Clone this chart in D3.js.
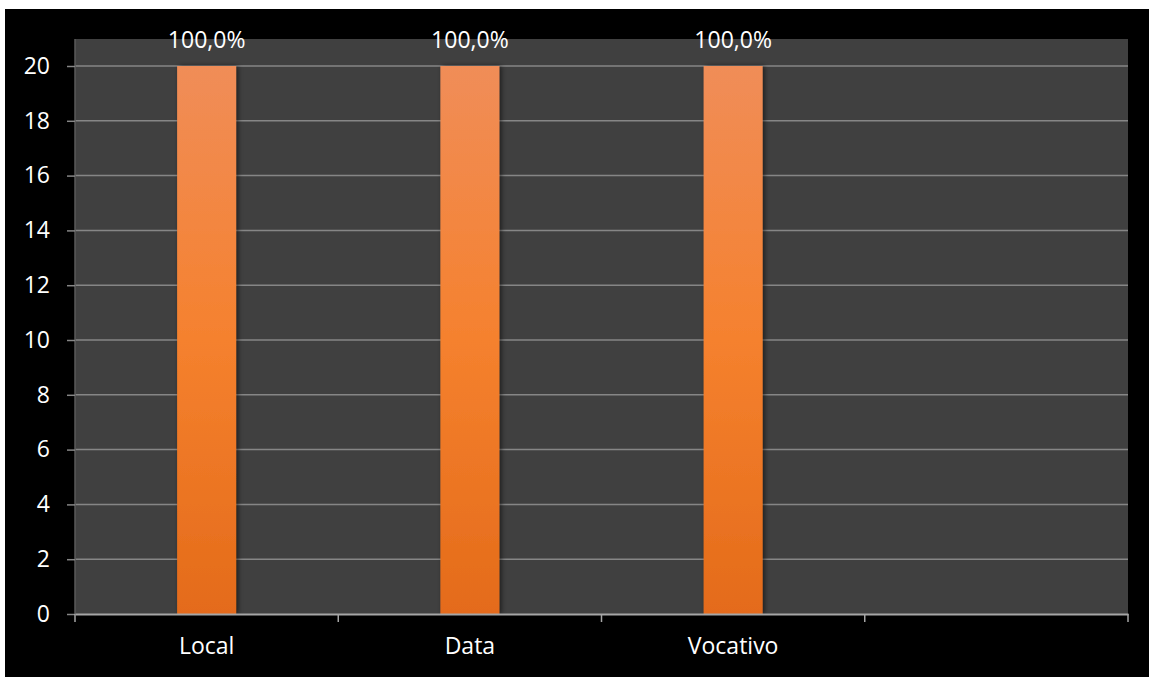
<!DOCTYPE html>
<html>
<head>
<meta charset="utf-8">
<script src="https://cdn.jsdelivr.net/npm/d3@7"></script>
<style>
  body { margin: 0; background: #fff; }
  svg { display: block; font-family: "Open Sans", sans-serif; }
</style>
</head>
<body>
<script>
// chart data
const categories = ['Local', 'Data', 'Vocativo', ''];
const values = [20, 20, 20, null];
const valueLabels = ['100,0%', '100,0%', '100,0%', ''];
const yTicks = [0, 2, 4, 6, 8, 10, 12, 14, 16, 18, 20];

const width = 1149;
const height = 677;

// plot area
const plotLeft = 75, plotRight = 1128, plotTop = 39, plotBottom = 614;
const fontSize = '23px';

const svg = d3.select('body')
  .append('svg')
    .attr('width', width)
    .attr('height', height);

// black chart background
svg.append('rect')
  .attr('x', 5).attr('y', 9)
  .attr('width', width - 5).attr('height', height - 9)
  .attr('fill', '#000');

// gradient + shadow for bars
const defs = svg.append('defs');
const grad = defs.append('linearGradient')
  .attr('id', 'barGrad')
  .attr('x1', 0).attr('y1', 0).attr('x2', 0).attr('y2', 1);
grad.append('stop').attr('offset', '0%').attr('stop-color', '#f08d58');
grad.append('stop').attr('offset', '50%').attr('stop-color', '#f5812e');
grad.append('stop').attr('offset', '100%').attr('stop-color', '#e46b1a');

const shadow = defs.append('filter')
  .attr('id', 'shadow')
  .attr('x', '-20%').attr('y', '-5%').attr('width', '140%').attr('height', '110%');
shadow.append('feDropShadow')
  .attr('dx', 2).attr('dy', 0).attr('stdDeviation', 2.5)
  .attr('flood-color', '#000').attr('flood-opacity', 0.55);

// plot background
svg.append('rect')
  .attr('x', plotLeft).attr('y', plotTop)
  .attr('width', plotRight - plotLeft).attr('height', plotBottom - plotTop)
  .attr('fill', '#404040');

const xScale = d3.scaleBand()
  .domain(categories)
  .range([plotLeft, plotRight])
  .paddingInner(0)
  .paddingOuter(0);

const yScale = d3.scaleLinear()
  .domain([0, 20])
  .range([plotBottom, 66]);

// gridlines
svg.append('g')
  .selectAll('line')
  .data(yTicks.filter(d => d > 0))
  .enter()
    .append('line')
      .attr('x1', plotLeft).attr('x2', plotRight)
      .attr('y1', d => yScale(d)).attr('y2', d => yScale(d))
      .attr('stroke', '#868686')
      .attr('stroke-width', 1.5);

// left edge of plot
svg.append('line')
  .attr('x1', plotLeft).attr('x2', plotLeft)
  .attr('y1', plotTop).attr('y2', plotBottom)
  .attr('stroke', '#5a5a5a')
  .attr('stroke-width', 1.5);

// y axis
const yAxis = svg.append('g')
  .attr('transform', `translate(${plotLeft},0)`)
  .call(d3.axisLeft(yScale).tickValues(yTicks).tickSize(8).tickPadding(17));
yAxis.select('.domain').remove();
yAxis.selectAll('line').attr('stroke', '#868686').attr('stroke-width', 1.5);
yAxis.selectAll('text')
  .attr('fill', '#fff')
  .style('font-size', fontSize)
  .style('font-family', '"Open Sans", sans-serif');

// bars
const barWidth = 59;
svg.append('g')
  .selectAll('rect')
  .data(categories.map((c, i) => ({ c, v: values[i] })).filter(d => d.v != null))
  .enter()
    .append('rect')
      .attr('x', d => xScale(d.c) + xScale.bandwidth() / 2 - barWidth / 2)
      .attr('y', d => yScale(d.v))
      .attr('width', barWidth)
      .attr('height', d => plotBottom - yScale(d.v))
      .attr('fill', 'url(#barGrad)')
      .attr('filter', 'url(#shadow)');

// x axis
const xAxis = svg.append('g')
  .attr('transform', `translate(0,${plotBottom})`)
  .call(d3.axisBottom(xScale).tickSize(0).tickPadding(24));
xAxis.select('.domain')
  .attr('stroke', '#a6a6a6').attr('stroke-width', 2);
xAxis.selectAll('text')
  .attr('fill', '#fff')
  .style('font-size', fontSize)
  .style('font-family', '"Open Sans", sans-serif');

// category separator ticks
const sepX = categories.map(c => xScale(c)).concat([plotRight]);
svg.append('g')
  .selectAll('line')
  .data(sepX)
  .enter()
    .append('line')
      .attr('x1', d => d).attr('x2', d => d)
      .attr('y1', plotBottom).attr('y2', plotBottom + 8)
      .attr('stroke', '#a6a6a6')
      .attr('stroke-width', 1.5);

// value labels
svg.append('g')
  .selectAll('text')
  .data(categories.map((c, i) => ({ c, v: values[i], t: valueLabels[i] })).filter(d => d.v != null))
  .enter()
    .append('text')
      .attr('x', d => xScale(d.c) + xScale.bandwidth() / 2)
      .attr('y', d => yScale(d.v) - 18)
      .attr('text-anchor', 'middle')
      .attr('fill', '#fff')
      .style('font-size', fontSize)
      .text(d => d.t);
</script>
</body>
</html>
